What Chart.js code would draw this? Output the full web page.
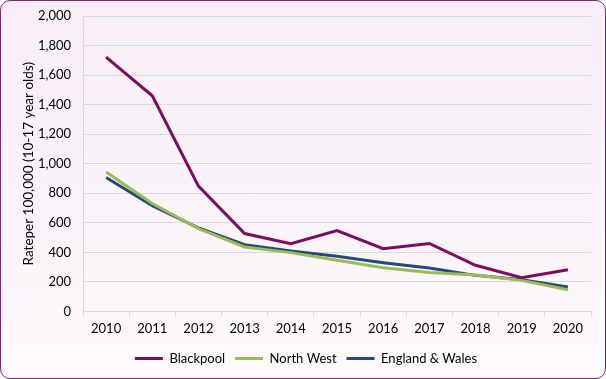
<!DOCTYPE html>
<html><head><meta charset="utf-8">
<script src="https://cdn.jsdelivr.net/npm/chart.js@4"></script>
<style>
html,body{margin:0;padding:0;background:#fff;}
#wrap{position:absolute;left:0;top:0;width:604px;height:377px;border:1px solid #7a2a6e;border-radius:10px;background:linear-gradient(#f8eef7,#fbf5fa 70%,#fdfafd);overflow:hidden;}
canvas{display:block;}
</style></head><body>
<div id="wrap"><canvas id="c" width="604" height="377"></canvas></div>
<script>
const years = ['2010','2011','2012','2013','2014','2015','2016','2017','2018','2019','2020'];
const blackpool = [1722,1460,848,527,459,547,425,460,312,228,282];
const northWest = [944,730,560,436,398,346,296,264,246,210,147];
const englandWales = [906,715,565,452,409,373,330,294,244,215,165];
const yTicks = [0,200,400,600,800,1000,1200,1400,1600,1800,2000];
const yTitle = 'Rateper 100,000 (10-17 year olds)';

const font = "Lato, 'Open Sans', sans-serif";
Chart.defaults.font.family = font;
Chart.defaults.color = '#000';
new Chart(document.getElementById('c'), {
  type: 'line',
  data: {
    labels: years,
    datasets: [
      {label:'Blackpool', data: blackpool, borderColor:'#7b0e5c', backgroundColor:'#7b0e5c', borderWidth:3, pointRadius:0, tension:0},
      {label:'North West', data: northWest, borderColor:'#9bbb59', backgroundColor:'#9bbb59', borderWidth:3, pointRadius:0, tension:0},
      {label:'England & Wales', data: englandWales, borderColor:'#254b7a', backgroundColor:'#254b7a', borderWidth:3, pointRadius:0, tension:0}
    ]
  },
  options: {
    responsive:false, animation:false,
    layout:{padding:{left:20,right:14,top:15,bottom:3}},
    plugins:{
      legend:{position:'bottom', labels:{usePointStyle:true, pointStyle:'line', pointStyleWidth:28, boxHeight:3, font:{size:13}, padding:10, color:'#000'}},
      tooltip:{enabled:false}
    },
    scales:{
      x:{offset:true, grid:{drawOnChartArea:false, drawTicks:true, tickLength:5, color:'#d9d9d9', offset:true}, border:{color:'#d9d9d9'}, ticks:{font:{size:13}, padding:5, maxRotation:0}},
      y:{min:0, max:2000, afterBuildTicks:(s)=>{s.ticks = yTicks.map(v=>({value:v}));},
         afterFit:(s)=>{s.width = 62; s.paddingTop = 0; s.paddingBottom = 0;},
         grid:{color:'#d9d9d9', drawTicks:false}, border:{color:'#d9d9d9'},
         ticks:{font:{size:13}, padding:12, callback:(v)=>v.toLocaleString('en-US')},
         title:{display:true, text:yTitle, font:{size:13.5}, padding:{top:0,bottom:2}}}
    }
  }
});
</script></body></html>
